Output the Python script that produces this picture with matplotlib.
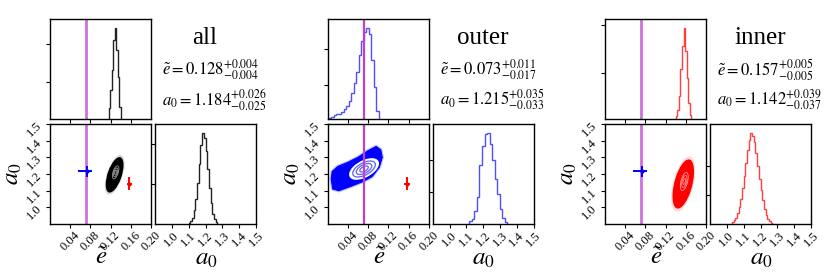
"""
Corner-style plots of e~ and a_0 posteriors for the all / outer / inner samples.
"""

import numpy as np
import matplotlib
matplotlib.use('Agg')
import matplotlib.pyplot as plt
from matplotlib.patches import Ellipse, Polygon
from matplotlib.transforms import Affine2D

plt.rcParams['font.family'] = ['Liberation Serif', 'DejaVu Serif']
plt.rcParams['mathtext.fontset'] = 'stix'

# ---- values ----
names = ['all', 'outer', 'inner']
colors = ['black', 'blue', 'red']

e_med = [0.128, 0.073, 0.157]
e_up = [0.004, 0.011, 0.005]
e_lo = [0.004, 0.017, 0.005]
a_med = [1.184, 1.215, 1.142]
a_up = [0.026, 0.035, 0.039]
a_lo = [0.025, 0.033, 0.037]

e_ref = 0.072  # vertical magenta line

# which other results are over-plotted as crosses in each 2d panel
crosses = [[1, 2], [2], [1]]

# e~ histograms: first edge, bin width, heights relative to peak
e_start = [0.116, 0.0015, 0.1405]
e_width = [0.003, 0.005, 0.003]
e_counts = [
    [0.12, 0.32, 0.54, 0.87, 1.0, 0.76, 0.46, 0.13],
    [0.01, 0.02, 0.04, 0.05, 0.06, 0.08, 0.11, 0.14, 0.20, 0.29,
     0.40, 0.52, 0.70, 0.86, 0.96, 1.0, 0.94, 0.65, 0.35, 0.09],
    [0.03, 0.10, 0.25, 0.55, 0.80, 1.0, 0.75, 0.45, 0.18, 0.04],
]

# a_0 histograms
a_start = [1.10, 1.118, 1.03]
a_width = [0.01, 0.015, 0.01]
a_counts = [
    [0.01, 0.03, 0.07, 0.15, 0.28, 0.45, 0.66, 0.87, 1.0, 0.95,
     0.80, 0.60, 0.40, 0.23, 0.11, 0.05, 0.02],
    [0.03, 0.06, 0.14, 0.30, 0.65, 0.86, 0.99, 1.0, 0.88, 0.70,
     0.50, 0.33, 0.16, 0.07, 0.02],
    [0.02, 0.04, 0.07, 0.12, 0.19, 0.28, 0.40, 0.53, 0.67, 0.81,
     0.92, 1.0, 0.97, 0.90, 0.78, 0.64, 0.50, 0.37, 0.26, 0.17,
     0.10, 0.06, 0.03, 0.015, 0.005],
]

# gaussian-like clouds: centre e, centre a0, sigma e, sigma a0, correlation
cloud_all = [0.128, 1.195, 0.0043, 0.026, 0.55]
cloud_inner = [0.155, 1.14, 0.0052, 0.036, 0.5]
# outer cloud is banana shaped: outline
outer_e = [0.007, 0.009, 0.020, 0.040, 0.060, 0.080, 0.096, 0.105,
           0.108, 0.102, 0.088, 0.070, 0.045, 0.022, 0.010]
outer_a = [1.170, 1.215, 1.245, 1.270, 1.300, 1.340, 1.365, 1.345,
           1.300, 1.240, 1.185, 1.155, 1.125, 1.100, 1.110]
outer_core = [0.072, 1.230, 0.014, 0.030, 0.55]

# tick fractions of the (un-labelled) histogram y axes
top_ticks = [[0.41, 0.82], [0.37, 0.77], [0.51, 1.03]]
side_ticks = [[0.44, 0.88], [0.35, 0.70], [0.32, 0.64]]

W, H = 831, 274
group_left = [50, 327.7, 605]
PW, PH = 101, 100
HGAP, VGAP = 4, 5
TOP_Y = 19


def px_axes(fig, x0, y0, w, h):
    """Axes from pixel box (top-left origin)."""
    return fig.add_axes([x0 / W, (H - y0 - h) / H, w / W, h / H])


def px_text(fig, x, y, s, **kw):
    """Figure text placed at pixel coordinates (top-left origin)."""
    return fig.text(x / W, 1 - y / H, s, **kw)


def gauss_ellipse(ax, cloud, scale, **kw):
    ce, ca, se, sa, rho = cloud
    mat = np.array([[se * scale, 0, ce],
                    [rho * sa * scale, np.sqrt(1 - rho ** 2) * sa * scale, ca],
                    [0, 0, 1]])
    patch = Ellipse((0, 0), 2, 2, transform=Affine2D(mat) + ax.transData, **kw)
    ax.add_patch(patch)


def style(ax):
    ax.tick_params(direction='out', length=3, width=0.8, labelsize=9, pad=1)
    for sp in ax.spines.values():
        sp.set_linewidth(1.0)


fig = plt.figure(figsize=(W / 100, H / 100), dpi=100)

for i, name in enumerate(names):
    gx = group_left[i]
    col = colors[i]
    hist_col = {'black': '#222222', 'blue': '#5050ff', 'red': '#ff4040'}[col]
    line_col = '#c040c8' if i == 1 else '#d070e0'
    line_w = 1.6 if i == 1 else 2.0

    ax_top = px_axes(fig, gx, TOP_Y, PW, PH)
    ax_2d = px_axes(fig, gx, TOP_Y + PH + VGAP, PW, PH)
    ax_side = px_axes(fig, gx + PW + HGAP, TOP_Y + PH + VGAP, PW, PH)

    # top histogram of e~
    edges = e_start[i] + e_width[i] * np.arange(len(e_counts[i]) + 1)
    ax_top.axvline(e_ref, color=line_col, lw=line_w)
    ax_top.stairs(e_counts[i], edges, color=hist_col, lw=1.0)
    ax_top.set_xlim(0, 0.2)
    ax_top.set_ylim(0, 1.1)
    ax_top.set_xticks([0.04, 0.08, 0.12, 0.16])
    ax_top.set_xticklabels([])
    ax_top.set_yticks(top_ticks[i])
    ax_top.set_yticklabels([])
    style(ax_top)

    # 2d panel
    ax_2d.set_xlim(0, 0.2)
    ax_2d.set_ylim(0.9, 1.5)
    if i == 1:
        verts = np.column_stack([outer_e, outer_a])
        ax_2d.add_patch(Polygon(verts, closed=True, facecolor='blue',
                                edgecolor='blue', lw=2.5, alpha=0.25,
                                joinstyle='round'))
        ax_2d.add_patch(Polygon(verts, closed=True, facecolor='blue',
                                edgecolor='blue', lw=0.8, joinstyle='round'))
        gauss_ellipse(ax_2d, outer_core, 2.0, facecolor='white',
                      edgecolor='white', lw=1.2)
        for s in [0.6, 1.1, 1.6]:
            gauss_ellipse(ax_2d, outer_core, s, facecolor='none',
                          edgecolor='#6060ff', lw=0.9)
    else:
        cloud = cloud_all if i == 0 else cloud_inner
        halo = '#888888' if i == 0 else '#ff8080'
        gauss_ellipse(ax_2d, cloud, 4.6, facecolor=halo, edgecolor='none',
                      alpha=0.3)
        gauss_ellipse(ax_2d, cloud, 4.1, facecolor=col, edgecolor='none')
        core = [cloud[0] + 0.002, cloud[1] + 0.015] + cloud[2:]
        for s in [0.5, 1.0, 1.5]:
            gauss_ellipse(ax_2d, core, s, facecolor='none',
                          edgecolor='white', lw=0.6, alpha=0.6)
    ax_2d.axvline(e_ref, color=line_col, lw=line_w, zorder=2.5)
    for j in crosses[i]:
        ax_2d.errorbar(e_med[j], a_med[j],
                       xerr=[[e_lo[j]], [e_up[j]]],
                       yerr=[[a_lo[j]], [a_up[j]]],
                       fmt='.', ms=4, color=colors[j], lw=1.4, capsize=0,
                       zorder=4)
    ax_2d.set_xticks([0.04, 0.08, 0.12, 0.16, 0.20])
    ax_2d.set_xticklabels(['0.04', '0.08', '0.12', '0.16', '0.20'], rotation=45)
    ax_2d.set_yticks([1.0, 1.1, 1.2, 1.3, 1.4, 1.5])
    ax_2d.set_yticklabels(['1.0', '1.1', '1.2', '1.3', '1.4', '1.5'], rotation=45)
    style(ax_2d)

    # side histogram of a_0
    edges = a_start[i] + a_width[i] * np.arange(len(a_counts[i]) + 1)
    ax_side.stairs(a_counts[i], edges, color=hist_col, lw=1.0)
    ax_side.set_xlim(0.9, 1.5)
    ax_side.set_ylim(0, 1.1)
    ax_side.set_xticks([1.0, 1.1, 1.2, 1.3, 1.4, 1.5])
    ax_side.set_xticklabels(['1.0', '1.1', '1.2', '1.3', '1.4', '1.5'], rotation=45)
    ax_side.set_yticks(side_ticks[i])
    ax_side.set_yticklabels([])
    style(ax_side)

    # axis labels, placed where the reference has them
    px_text(fig, gx + 52, 258, r'$\tilde{e}$', fontsize=18,
            ha='center', va='center')
    px_text(fig, gx + PW + HGAP + 51, 259, r'$a_0$', fontsize=18,
            ha='center', va='center')
    px_text(fig, gx - 37, 174, r'$a_0$', fontsize=18, rotation=90,
            ha='center', va='center')

    # title and summary numbers
    px_text(fig, gx + 155, 38, name, fontsize=18, ha='center', va='center')
    e_txt = (r'$\tilde{e}=%.3f^{+%.3f}_{-%.3f}$' % (e_med[i], e_up[i], e_lo[i]))
    a_txt = (r'$a_0=%.3f^{+%.3f}_{-%.3f}$' % (a_med[i], a_up[i], a_lo[i]))
    px_text(fig, gx + 112, 70, e_txt, fontsize=12, ha='left', va='center')
    px_text(fig, gx + 112, 100, a_txt, fontsize=12, ha='left', va='center')

fig.savefig('out.png', dpi=100)
